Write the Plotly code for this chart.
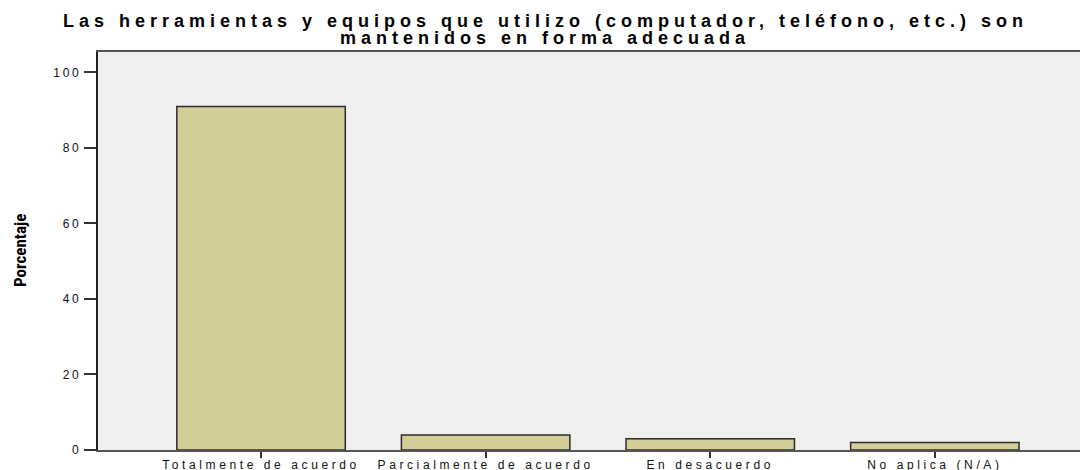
import plotly.graph_objects as go

categories = ["Totalmente de acuerdo", "Parcialmente de acuerdo", "En desacuerdo", "No aplica (N/A)"]
percentages = [91.0, 4.0, 3.0, 2.0]
y_ticks = [0, 20, 40, 60, 80, 100]
title_lines = ["Las herramientas y equipos que utilizo (computador, teléfono, etc.) son",
               "mantenidos en forma adecuada"]
y_title = "Porcentaje"

# The page body has an 8px default margin; figure is sized to fill the rest.
OFF = 8
W, H = 1088 - OFF, 470 - OFF
ML, MR, MT, MB = 98 - OFF, 0, 52 - OFF, 20
PH = H - MT - MB
PW = W - ML - MR

FONT = "Liberation Sans, Arial, sans-serif"


def spaced(s, px):
    return f'<span style="letter-spacing:{px}px">{s}</span>'


def py(y_page):
    return (H - MB - (y_page - OFF)) / PH


def px_(x_page):
    return (x_page - OFF - ML) / PW


fig = go.Figure(
    go.Bar(
        x=categories,
        y=percentages,
        width=0.75,
        marker=dict(color="#d3ce97", line=dict(color="#2b2b2b", width=1.5)),
    )
)

fig.update_layout(
    width=W,
    height=H,
    margin=dict(l=ML, r=MR, t=MT, b=MB, pad=0, autoexpand=False),
    paper_bgcolor="white",
    plot_bgcolor="#efefef",
    showlegend=False,
    font=dict(family=FONT, size=12, color="#222"),
)

fig.update_xaxes(
    type="category",
    range=[-0.726, 3.682],
    tickvals=categories,
    ticktext=[spaced(c, 3.6) for c in categories],
    ticks="outside",
    ticklen=6,
    tickwidth=1.5,
    tickcolor="#333",
    ticklabelstandoff=-3,
    showline=True,
    linecolor="#555",
    linewidth=1.5,
    mirror=True,
    showgrid=False,
    automargin=False,
    tickfont=dict(size=12, color="#111"),
    fixedrange=True,
)

fig.update_yaxes(
    range=[0, 105.4],
    tickvals=y_ticks,
    ticktext=[spaced(str(v), 2.8) for v in y_ticks],
    ticks="outside",
    ticklen=12,
    tickwidth=1.5,
    tickcolor="#333",
    showline=True,
    linecolor="#222",
    linewidth=2,
    showgrid=False,
    zeroline=False,
    automargin=False,
    tickfont=dict(size=12, color="#111"),
    fixedrange=True,
)

fig.add_annotation(
    text=spaced(title_lines[0], 5.0), xref="paper", yref="paper",
    x=px_(545), y=py(20.5), xanchor="center", yanchor="middle", showarrow=False,
    font=dict(family=FONT, size=18, color="black", weight="bold"),
)
fig.add_annotation(
    text=spaced(title_lines[1], 5.0), xref="paper", yref="paper",
    x=px_(545), y=py(38.5), xanchor="center", yanchor="middle", showarrow=False,
    font=dict(family=FONT, size=18, color="black", weight="bold"),
)
fig.add_annotation(
    text=y_title, xref="paper", yref="paper",
    x=px_(20), y=py(251), xanchor="center", yanchor="middle", showarrow=False,
    textangle=-90,
    font=dict(family="Liberation Sans Narrow, Arial Narrow, Roboto Condensed, Arial, sans-serif",
              size=17, color="black", weight="bold"),
)

fig.write_html("out.html")
